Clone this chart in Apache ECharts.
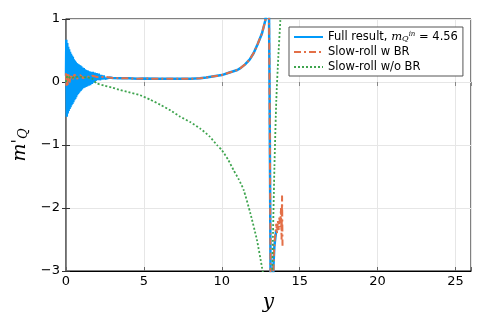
<!DOCTYPE html>
<html>
<head>
<meta charset="utf-8">
<script src="https://cdn.jsdelivr.net/npm/echarts@6/dist/echarts.min.js"></script>
<style>
  html, body { margin: 0; padding: 0; background: #fff; }
  #chart { width: 491px; height: 327px; }
</style>
</head>
<body>
<div id="chart"></div>
<script>
// x ticks and y ticks
const xTicks = [0, 5, 10, 15, 20, 25]
const yTicks = [-3, -2, -1, 0, 1]

// full result (blue): [y, m'_Q]
const fullResult = [
  [0.00, 0.10], [0.02, 0.67], [0.05, -0.55], [0.08, 0.62], [0.11, -0.50], [0.14, 0.56],
  [0.17, -0.46], [0.20, 0.52], [0.23, -0.43], [0.26, 0.48], [0.29, -0.40], [0.32, 0.45],
  [0.35, -0.37], [0.38, 0.42], [0.41, -0.35], [0.44, 0.40], [0.47, -0.32], [0.50, 0.36],
  [0.53, -0.29], [0.56, 0.34], [0.59, -0.27], [0.62, 0.32], [0.65, -0.24], [0.68, 0.30],
  [0.71, -0.21], [0.74, 0.29], [0.77, -0.19], [0.80, 0.28], [0.83, -0.17], [0.86, 0.27],
  [0.89, -0.15], [0.92, 0.26], [0.95, -0.14], [0.98, 0.25], [1.02, -0.12], [1.06, 0.23],
  [1.10, -0.10], [1.14, 0.22], [1.18, -0.09], [1.22, 0.20], [1.26, -0.08], [1.30, 0.19],
  [1.35, -0.07], [1.40, 0.18], [1.45, -0.06], [1.50, 0.17], [1.55, -0.05], [1.60, 0.16],
  [1.66, -0.03], [1.72, 0.16], [1.78, -0.01], [1.84, 0.15], [1.90, 0.02], [1.96, 0.14],
  [2.03, 0.03], [2.10, 0.13], [2.18, 0.03], [2.26, 0.11], [2.34, 0.04], [2.42, 0.10],
  [2.50, 0.05], [2.60, 0.08], [2.80, 0.07], [3.00, 0.065], [3.50, 0.06], [4.00, 0.06],
  [4.60, 0.05], [5.00, 0.055], [6.00, 0.05], [7.00, 0.05], [8.00, 0.05], [8.60, 0.06],
  [9.00, 0.07], [9.50, 0.09], [10.0, 0.11], [10.5, 0.15], [11.0, 0.19], [11.2, 0.22],
  [11.5, 0.28], [11.8, 0.36], [12.05, 0.46], [12.3, 0.60], [12.58, 0.77], [12.8, 0.98],
  [12.9, 1.2], [12.97, 1.6], [13.0, 2.5], [13.03, 1.2], [13.06, 0.2], [13.1, -1.5],
  [13.13, -3.0], [13.16, -5.0], [13.22, -5.0], [13.27, -3.5], [13.32, -2.9], [13.38, -2.6],
  [13.45, -2.45], [13.5, -2.35]
]

// slow-roll with backreaction (orange)
const slowRollBR = [
  [0.00, 0.14], [0.03, -0.08], [0.06, 0.13], [0.10, -0.06], [0.15, 0.12], [0.22, -0.02],
  [0.30, 0.12], [0.40, 0.03], [0.55, 0.12], [0.70, 0.05], [0.90, 0.11], [1.10, 0.06],
  [1.30, 0.10], [1.50, 0.07], [1.70, 0.10], [2.00, 0.08], [2.30, 0.08], [2.60, 0.08],
  [2.80, 0.07], [3.00, 0.065], [3.50, 0.06], [4.00, 0.06], [4.60, 0.05], [5.00, 0.055],
  [6.00, 0.05], [7.00, 0.05], [8.00, 0.05], [8.60, 0.06], [9.00, 0.07], [9.50, 0.09],
  [10.0, 0.11], [10.5, 0.15], [11.0, 0.19], [11.2, 0.22], [11.5, 0.28], [11.8, 0.36],
  [12.05, 0.46], [12.3, 0.60], [12.58, 0.77], [12.8, 0.98], [12.9, 1.2], [12.97, 1.6],
  [13.0, 2.5], [13.03, 1.2], [13.06, 0.2], [13.1, -1.5], [13.13, -3.0], [13.16, -5.0],
  [13.24, -5.0], [13.3, -3.1], [13.35, -2.7], [13.4, -2.5], [13.45, -2.4], [13.5, -2.25],
  [13.55, -2.4], [13.6, -2.2], [13.65, -2.35], [13.7, -2.15], [13.75, -2.3], [13.8, -2.0],
  [13.84, -2.5], [13.87, -1.8], [13.9, -2.6]
]

// slow-roll without backreaction (green)
const slowRollNoBR = [
  [0.00, 0.00], [0.10, 0.10], [0.30, 0.06], [0.60, 0.08], [1.00, 0.08], [1.40, 0.07],
  [1.65, 0.06], [1.97, -0.02], [2.50, -0.06], [3.00, -0.09], [3.50, -0.13], [4.00, -0.16],
  [4.76, -0.21], [5.40, -0.28], [6.05, -0.36], [6.70, -0.45], [7.33, -0.55], [8.00, -0.64],
  [8.62, -0.74], [9.20, -0.86], [9.69, -1.00], [10.0, -1.08], [10.4, -1.23], [10.76, -1.40],
  [11.1, -1.55], [11.4, -1.71], [11.83, -2.08], [12.26, -2.51], [12.58, -2.94], [12.7, -3.1],
  [13.0, '-'], [13.2, -3.3], [13.25, -2.9], [13.29, -2.4], [13.38, -1.35], [13.5, -0.29],
  [13.63, 0.4], [13.76, 0.98], [13.8, 1.2]
]

const chart = echarts.init(document.getElementById('chart'))

const minus = (v) => (v < 0 ? '\u2212' + Math.abs(v) : String(v))

const option = {
  animation: false,
  textStyle: { fontFamily: 'DejaVu Sans' },
  grid: {
    left: 66,
    top: 19,
    right: 20,
    bottom: 56,
    show: true,
    borderColor: '#000',
    borderWidth: 1
  },
  legend: {
    left: 289,
    top: 27,
    orient: 'vertical',
    backgroundColor: '#fff',
    borderColor: '#555',
    borderWidth: 1,
    borderRadius: 0,
    padding: [4, 5, 3, 4],
    itemWidth: 29,
    itemHeight: 12,
    itemGap: 3,
    itemStyle: { opacity: 0 },
    textStyle: {
      fontSize: 11.5,
      color: '#000',
      rich: {
        m: { fontFamily: 'DejaVu Serif', fontStyle: 'italic', fontSize: 11.5 },
        sup: { fontFamily: 'DejaVu Serif', fontStyle: 'italic', fontSize: 7, verticalAlign: 'top', lineHeight: 8 },
        sub: { fontFamily: 'DejaVu Serif', fontStyle: 'italic', fontSize: 8, verticalAlign: 'bottom', lineHeight: 8 }
      }
    },
    formatter: (name) => {
      if (name === 'full') return 'Full result, {m|m}{sub|Q}{sup|in} = 4.56'
      return name
    },
    data: ['full', 'Slow-roll w BR', 'Slow-roll w/o BR']
  },
  xAxis: [
    {
      type: 'value',
      min: 0,
      max: 26,
      interval: 5,
      name: 'y',
      nameLocation: 'middle',
      nameGap: 20,
      nameTextStyle: { fontFamily: 'DejaVu Serif', fontStyle: 'italic', fontSize: 20, color: '#000' },
      axisLine: { show: true, onZero: false, lineStyle: { color: '#000', width: 1 } },
      axisTick: { show: true, inside: true, length: 4, lineStyle: { color: '#666' } },
      axisLabel: {
        fontSize: 13,
        color: '#000',
        margin: 4,
        formatter: (v) => (xTicks.includes(v) ? minus(v) : '')
      },
      splitLine: { show: true, lineStyle: { color: '#e6e6e6', width: 1 } }
    },
    {
      type: 'value',
      position: 'top',
      min: 0,
      max: 26,
      interval: 5,
      axisLine: { show: false },
      axisTick: { show: true, inside: true, length: 4, lineStyle: { color: '#888' } },
      axisLabel: { show: false },
      splitLine: { show: false }
    }
  ],
  yAxis: [
    {
      type: 'value',
      min: -3,
      max: 1,
      interval: 1,
      name: "{m|m}{p|'}{q|Q}",
      nameLocation: 'middle',
      nameGap: 34,
      nameRotate: 90,
      nameTextStyle: {
        color: '#000',
        rich: {
          m: { fontFamily: 'DejaVu Serif', fontStyle: 'italic', fontSize: 19 },
          p: { fontFamily: 'DejaVu Serif', fontSize: 16, verticalAlign: 'top' },
          q: { fontFamily: 'DejaVu Serif', fontStyle: 'italic', fontSize: 13, verticalAlign: 'bottom', padding: [6, 0, 0, 0] }
        }
      },
      axisLine: { show: true, onZero: false, lineStyle: { color: '#666', width: 1.5 } },
      axisTick: { show: true, inside: true, length: 4, lineStyle: { color: '#333' } },
      axisLabel: {
        fontSize: 13,
        color: '#000',
        margin: 6,
        formatter: (v) => (yTicks.includes(v) ? minus(v) : '')
      },
      splitLine: { show: true, lineStyle: { color: '#e6e6e6', width: 1 } }
    },
    {
      type: 'value',
      position: 'right',
      min: -3,
      max: 1,
      interval: 1,
      axisLine: { show: false },
      axisTick: { show: true, inside: true, length: 4, lineStyle: { color: '#333' } },
      axisLabel: { show: false },
      splitLine: { show: false }
    }
  ],
  series: [
    {
      name: 'full',
      type: 'line',
      data: fullResult,
      showSymbol: false,
      symbol: 'none',
      lineStyle: { color: '#009afa', width: 2.5 },
      itemStyle: { color: '#009afa' },
      z: 2
    },
    {
      name: 'Slow-roll w BR',
      type: 'line',
      data: slowRollBR,
      showSymbol: false,
      symbol: 'none',
      lineStyle: { color: '#e36f47', width: 2, type: [7, 3, 2, 3] },
      itemStyle: { color: '#e36f47' },
      z: 3
    },
    {
      name: 'Slow-roll w/o BR',
      type: 'line',
      data: slowRollNoBR,
      showSymbol: false,
      symbol: 'none',
      connectNulls: false,
      smooth: 0.2,
      lineStyle: { color: '#3ea44e', width: 1.8, type: [2, 2] },
      itemStyle: { color: '#3ea44e' },
      z: 4
    }
  ]
}

chart.setOption(option)
</script>
</body>
</html>
